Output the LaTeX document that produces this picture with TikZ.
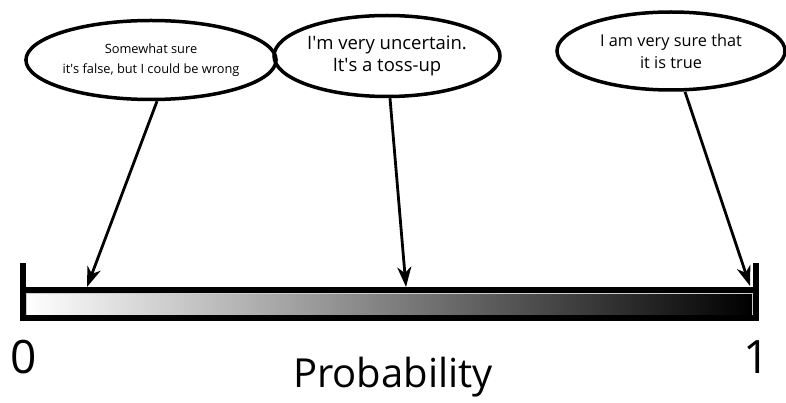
\documentclass[tikz,border=0pt]{standalone}
\usepackage{fontspec}
\setmainfont{Open Sans}
\usepackage{tikz}
\usetikzlibrary{shapes.geometric,arrows.meta}

\tikzset{
    bubble/.style={ellipse, draw, line width=3.5pt, minimum width=#1, align=center, inner sep=0pt},
    pointer/.style={-{Stealth[length=20pt,width=14pt,inset=6pt]}, line width=2.8pt},
}

\begin{document}
\begin{tikzpicture}[x=1pt,y=-1pt]
    \useasboundingbox (0,0) rectangle (786,403);

    % Bar (gradient)
    \shade[left color=white, right color=black] (26,293) rectangle (752,316);
    \draw[gray!40, line width=0.8pt] (26,293) rectangle (752,316);
    \draw[line width=5.6pt] (23,290) -- (756,290);
    \draw[line width=5.6pt] (23,263) -- (23,318) -- (756,318) -- (756,263);

    % Tips on the bar
    \coordinate (pfalse) at (87,287);
    \coordinate (phalf) at (406,287);
    \coordinate (ptrue) at (750,286);

    % Bubbles
    \node[bubble=235pt, minimum height=79pt, font=\fontsize{12.8}{19.5}\selectfont] (sfalse) at (151,60)
        {Somewhat sure\\it\textquotesingle s false, but I could be wrong};
    \node[bubble=225pt, minimum height=81pt, font=\fontsize{18.5}{22.5}\selectfont] (shalf) at (387,56)
        {I\textquotesingle m very uncertain.\\It\textquotesingle s a toss-up};
    \node[bubble=228pt, minimum height=78pt, font=\fontsize{16.3}{22}\selectfont] (strue) at (671,51)
        {I am very sure that\\it is true};

    % Arrows
    \draw[pointer] (sfalse.south) ++(6,0) -- (pfalse);
    \draw[pointer] (shalf.south) ++(3,0) -- (phalf);
    \draw[pointer] (strue.south) ++(14,0) -- (ptrue);

    % Labels
    \node[font=\fontsize{46}{46}\selectfont, inner sep=0pt] (zero) at (24,357) {0};
    \node[font=\fontsize{46}{46}\selectfont, inner sep=0pt] (one) at (757,357) {1};
    \node[font=\fontsize{40}{40}\selectfont, inner sep=0pt] (prob) at (393,377) {Probability};
\end{tikzpicture}
\end{document}
